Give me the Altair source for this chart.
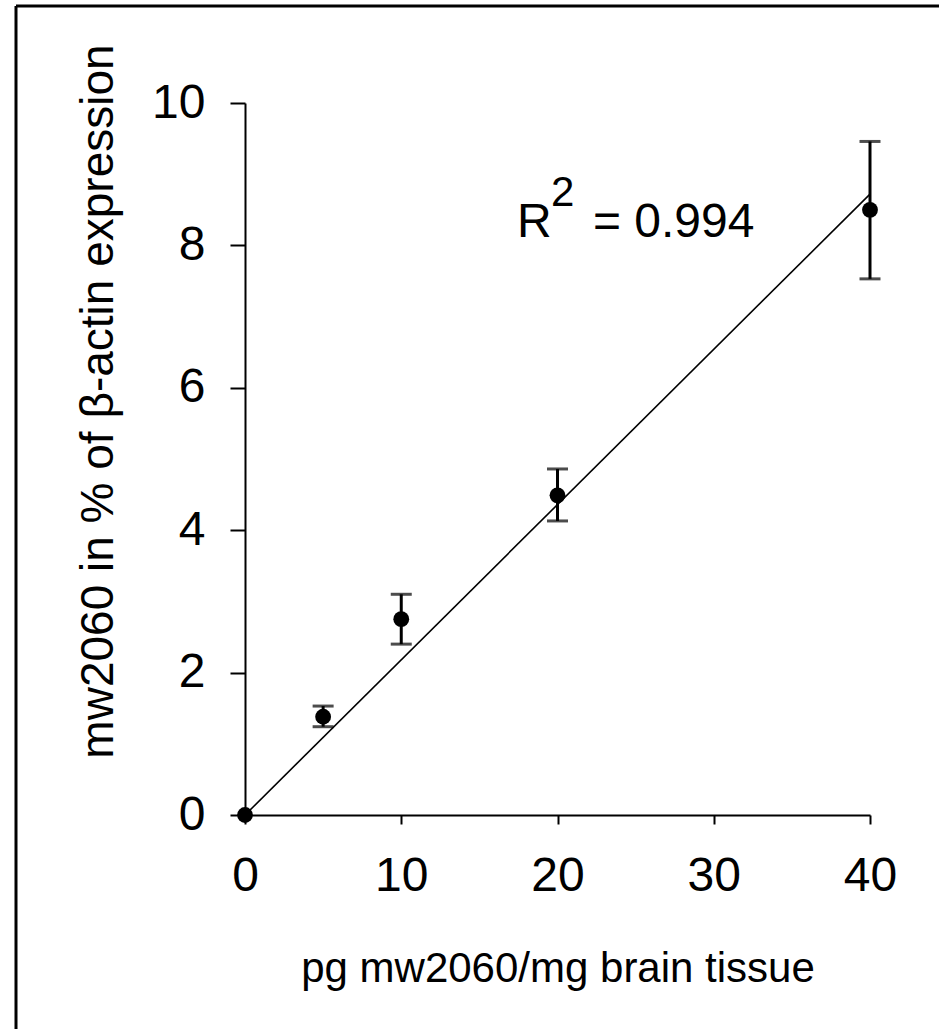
import altair as alt
import pandas as pd

# data
conc = [0, 5, 10, 20, 40]
expr = [0.0, 1.38, 2.75, 4.49, 8.50]
err_lo = [0.0, 1.24, 2.40, 4.13, 7.53]
err_hi = [0.0, 1.53, 3.10, 4.86, 9.46]

fit_x = [0, 40]
fit_y = [0.0, 8.72]

r2_label = "0.994"

pts = pd.DataFrame({"x": conc, "y": expr, "lo": err_lo, "hi": err_hi})
bars = pts[pts["hi"] > pts["lo"]]
fit = pd.DataFrame({"x": fit_x, "y": fit_y})

FONT = "Liberation Sans"

xs = alt.Scale(domain=[0, 40], nice=False, zero=False)
ys = alt.Scale(domain=[0, 10], nice=False, zero=False)

x_axis = alt.Axis(values=[0, 10, 20, 30, 40], title="pg mw2060/mg brain tissue",
                  format="d", labelFlush=False,
                  grid=False, tickSize=9, tickWidth=2, domainWidth=2,
                  domainColor="black", tickColor="black",
                  labelFontSize=48, labelPadding=28, labelColor="black",
                  labelFont=FONT, titleFont=FONT, titleFontSize=42,
                  titleFontWeight="normal", titleColor="black", titlePadding=48)
y_axis = alt.Axis(values=[0, 2, 4, 6, 8, 10], title="mw2060 in % of β-actin expression",
                  format="d", labelFlush=False,
                  grid=False, tickSize=15, tickWidth=2, domainWidth=2,
                  domainColor="black", tickColor="black",
                  labelFontSize=48, labelPadding=25, labelColor="black",
                  labelFont=FONT, titleFont=FONT, titleFontSize=46,
                  titleFontWeight="normal", titleColor="black",
                  titleY=298, titleX=-123, titleAnchor="middle")

base = alt.Chart(pts)

line = alt.Chart(fit).mark_line(color="black", strokeWidth=1.6).encode(
    x=alt.X("x:Q", scale=xs, axis=x_axis),
    y=alt.Y("y:Q", scale=ys, axis=y_axis),
)

err = alt.Chart(bars).mark_rule(color="black", strokeWidth=3).encode(
    x="x:Q", y="lo:Q", y2="hi:Q")
cap_lo = alt.Chart(bars).mark_tick(color="black", thickness=3, size=21,
                                    orient="horizontal").encode(x="x:Q", y="lo:Q")
cap_hi = alt.Chart(bars).mark_tick(color="black", thickness=3, size=21,
                                    orient="horizontal").encode(x="x:Q", y="hi:Q")

dots = base.mark_circle(color="black", opacity=1, size=250).encode(x="x:Q", y="y:Q")

ann = pd.DataFrame({"x": [17.4], "y": [8.12]})
r_txt = alt.Chart(ann).mark_text(text="R", font=FONT, fontSize=48, align="left",
                                 baseline="alphabetic", color="black").encode(x="x:Q", y="y:Q")
sup_txt = alt.Chart(ann).mark_text(text="2", font=FONT, fontSize=42, align="left",
                                   baseline="alphabetic", color="black", dx=34, dy=-31).encode(x="x:Q", y="y:Q")
eq_txt = alt.Chart(ann).mark_text(text="= " + r2_label, font=FONT, fontSize=48, align="left",
                                  baseline="alphabetic", color="black", dx=76).encode(x="x:Q", y="y:Q")

frame_left = alt.Chart(ann).mark_rule(color="black", strokeWidth=3).encode(
    x=alt.value(-229), y=alt.value(-97), y2=alt.value(940))
frame_top = alt.Chart(ann).mark_rule(color="black", strokeWidth=3).encode(
    x=alt.value(-229), x2=alt.value(700), y=alt.value(-97))

chart = alt.layer(line, err, cap_lo, cap_hi, dots, r_txt, sup_txt, eq_txt,
                  frame_left, frame_top).properties(
    width=625, height=712,
    padding={"left": 245, "top": 103, "right": 69, "bottom": 214},
    autosize="none",
    background="white",
).configure_view(stroke=None)

chart.save("out.html", embed_options={"renderer": "svg", "actions": False})
